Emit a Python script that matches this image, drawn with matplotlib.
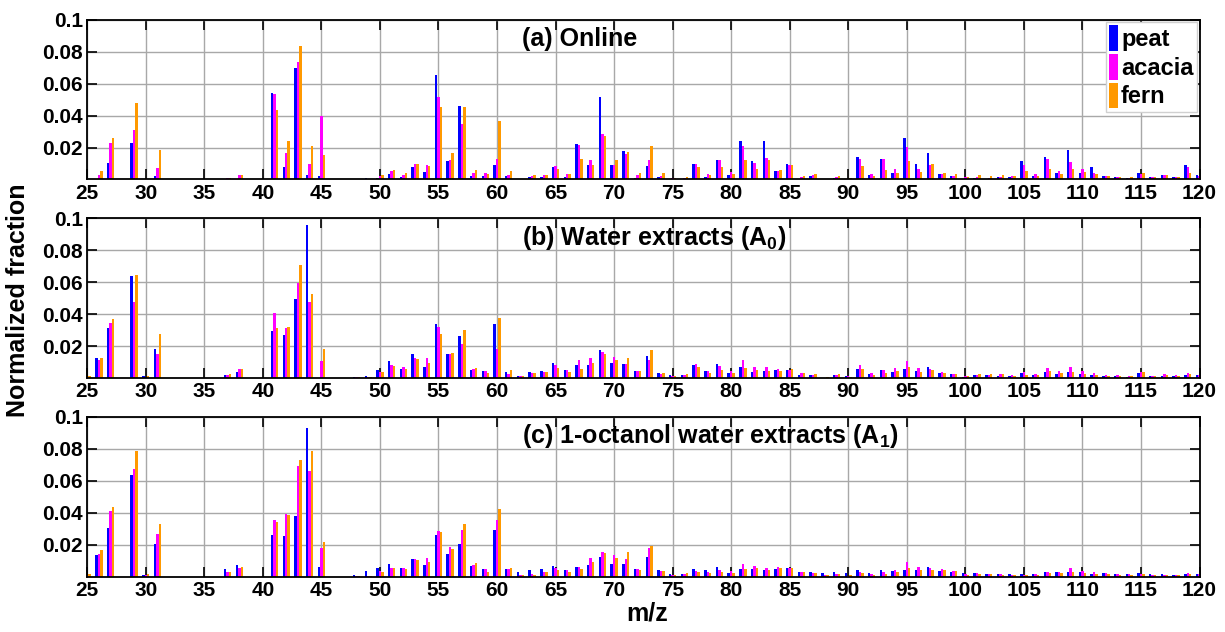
import numpy as np
import matplotlib
matplotlib.use("Agg")
import matplotlib.pyplot as plt

plt.rcParams['font.family'] = ['Liberation Sans', 'DejaVu Sans']
plt.rcParams['font.weight'] = 'bold'
plt.rcParams['mathtext.fontset'] = 'custom'
plt.rcParams['mathtext.rm'] = 'Liberation Sans:bold'
plt.rcParams['mathtext.default'] = 'rm'

# m/z 25 .. 120
mz = np.arange(25, 121)
series_names = ['peat', 'acacia', 'fern']
colors = ['#0000ff', '#ff00ff', '#ff9900']

# (a) Online
online_peat = [
    0, 0.0005, 0.0105, 0, 0.0227, 0, 0.002, 0, 0, 0,
    0, 0, 0, 0.0005, 0, 0, 0.054, 0.008, 0.0695, 0.003,
    0.0023, 0, 0, 0, 0.001, 0.001, 0.0034, 0.0013, 0.008, 0.0044,
    0.0651, 0.0116, 0.0462, 0.0023, 0.0023, 0.0092, 0.002, 0.0003, 0.0013, 0.0013,
    0.0076, 0.0017, 0.022, 0.009, 0.0519, 0.0088, 0.0179, 0.001, 0.0086, 0.0017,
    0.0005, 0.0005, 0.0095, 0.0017, 0.012, 0.003, 0.024, 0.0116, 0.024, 0.0053,
    0.0099, 0.0006, 0.002, 0.0003, 0.001, 0.0005, 0.0139, 0.0027, 0.0128, 0.0038,
    0.026, 0.0097, 0.0164, 0.0034, 0.0023, 0.0005, 0.0008, 0.0005, 0.0015, 0.0015,
    0.0116, 0.0023, 0.0139, 0.0042, 0.0183, 0.0042, 0.0078, 0.0019, 0.0013, 0.001,
    0.004, 0.0013, 0.0027, 0.0013, 0.009, 0.0025]
online_acacia = [
    0, 0.003, 0.0227, 0, 0.0307, 0, 0.007, 0, 0, 0,
    0, 0, 0.001, 0.0027, 0, 0, 0.0534, 0.0168, 0.0737, 0.0097,
    0.040, 0, 0, 0, 0.0005, 0.002, 0.005, 0.003, 0.0099, 0.0088,
    0.0515, 0.0122, 0.0347, 0.004, 0.0042, 0.0128, 0.003, 0.0005, 0.0023, 0.0027,
    0.0086, 0.0034, 0.0216, 0.0124, 0.0282, 0.0088, 0.016, 0.0025, 0.0122, 0.0023,
    0.0008, 0.0008, 0.0095, 0.0034, 0.012, 0.0044, 0.0208, 0.0103, 0.0134, 0.005,
    0.0088, 0.0015, 0.0025, 0.0003, 0.0013, 0.0003, 0.013, 0.0034, 0.0128, 0.0063,
    0.0202, 0.0067, 0.009, 0.0034, 0.0019, 0.0013, 0.0013, 0.0008, 0.0017, 0.0019,
    0.0092, 0.0034, 0.013, 0.005, 0.0109, 0.0067, 0.0042, 0.0019, 0.0015, 0.001,
    0.0034, 0.0015, 0.0027, 0.0017, 0.0078, 0.002]
online_fern = [
    0, 0.005, 0.026, 0, 0.048, 0.0005, 0.0185, 0, 0, 0,
    0, 0, 0.001, 0.0027, 0, 0, 0.0437, 0.024, 0.0836, 0.021,
    0.0151, 0, 0, 0.0003, 0.0005, 0.0025, 0.006, 0.0038, 0.0099, 0.0086,
    0.0456, 0.0164, 0.0456, 0.0057, 0.0034, 0.0368, 0.0055, 0.0005, 0.0027, 0.0027,
    0.0067, 0.0032, 0.013, 0.009, 0.0275, 0.0122, 0.0172, 0.004, 0.021, 0.0042,
    0.001, 0.0013, 0.0078, 0.003, 0.0078, 0.0034, 0.0122, 0.0067, 0.012, 0.0059,
    0.009, 0.0023, 0.0032, 0.0005, 0.0023, 0.0008, 0.0084, 0.0023, 0.0059, 0.0042,
    0.0113, 0.0046, 0.0097, 0.004, 0.0032, 0.0015, 0.0025, 0.002, 0.0027, 0.0019,
    0.005, 0.002, 0.0063, 0.0032, 0.0065, 0.0046, 0.0036, 0.0019, 0.0015, 0.0013,
    0.0042, 0.0017, 0.0025, 0.0017, 0.004, 0.001]

# (b) Water extracts (A0)
water_peat = [
    0.001, 0.0125, 0.0314, 0, 0.0638, 0.0015, 0.0184, 0, 0, 0,
    0, 0, 0.0019, 0.0042, 0, 0, 0.0295, 0.0272, 0.0496, 0.0956,
    0, 0, 0, 0.001, 0.0017, 0.005, 0.0107, 0.0056, 0.015, 0.0071,
    0.0341, 0.015, 0.0262, 0.0054, 0.0044, 0.0341, 0.0042, 0.0017, 0.004, 0.0048,
    0.0098, 0.0052, 0.0084, 0.0084, 0.018, 0.0094, 0.0092, 0.0046, 0.0138, 0.0031,
    0.0021, 0.0019, 0.0084, 0.0046, 0.0088, 0.0031, 0.0071, 0.0042, 0.0048, 0.005,
    0.0052, 0.0021, 0.0021, 0.0005, 0.0021, 0.0015, 0.0059, 0.0027, 0.0052, 0.0042,
    0.0056, 0.0044, 0.0069, 0.0031, 0.0027, 0.001, 0.0021, 0.0019, 0.0017, 0.0013,
    0.0033, 0.0019, 0.0038, 0.0029, 0.0042, 0.0029, 0.0021, 0.0017, 0.0015, 0.001,
    0.0033, 0.0013, 0.0017, 0.0015, 0.0021, 0.0021]
water_acacia = [
    0.001, 0.0113, 0.0343, 0, 0.0477, 0, 0.0155, 0, 0, 0,
    0, 0, 0.0023, 0.0056, 0, 0, 0.041, 0.0316, 0.0598, 0.0475,
    0.0111, 0, 0, 0.0008, 0.0008, 0.0042, 0.0084, 0.0069, 0.013, 0.0125,
    0.0324, 0.0155, 0.0213, 0.0059, 0.0044, 0.0184, 0.0029, 0.0015, 0.0036, 0.0042,
    0.0082, 0.0052, 0.0117, 0.0125, 0.0165, 0.0132, 0.0092, 0.0046, 0.0115, 0.0025,
    0.0015, 0.0021, 0.0088, 0.0046, 0.0077, 0.0046, 0.0113, 0.0073, 0.0069, 0.0059,
    0.0054, 0.0033, 0.0021, 0.0005, 0.0021, 0.0015, 0.0084, 0.0033, 0.0052, 0.0063,
    0.0109, 0.0063, 0.0056, 0.004, 0.0027, 0.0017, 0.0021, 0.0019, 0.0025, 0.0021,
    0.0042, 0.0027, 0.0063, 0.0046, 0.0071, 0.0046, 0.0033, 0.0019, 0.0021, 0.0015,
    0.004, 0.0015, 0.0029, 0.0021, 0.0031, 0.002]
water_fern = [
    0.0015, 0.0125, 0.037, 0, 0.0644, 0.0013, 0.0276, 0, 0, 0,
    0, 0, 0.0025, 0.0056, 0, 0, 0.0316, 0.0322, 0.0711, 0.0527,
    0.0186, 0, 0, 0.0008, 0.0008, 0.0038, 0.0077, 0.0061, 0.0121, 0.0094,
    0.0278, 0.0159, 0.0305, 0.0065, 0.0033, 0.0379, 0.0052, 0.0015, 0.0036, 0.0038,
    0.0065, 0.0042, 0.0061, 0.0096, 0.0153, 0.0117, 0.013, 0.0046, 0.018, 0.0036,
    0.0015, 0.0025, 0.0071, 0.0036, 0.0052, 0.0036, 0.0063, 0.0052, 0.0044, 0.0044,
    0.0059, 0.0031, 0.0025, 0.0008, 0.0025, 0.001, 0.0059, 0.0021, 0.0036, 0.0048,
    0.0069, 0.0042, 0.005, 0.0031, 0.0027, 0.0015, 0.0025, 0.0025, 0.0025, 0.0015,
    0.0021, 0.0021, 0.0046, 0.0031, 0.0042, 0.0027, 0.0021, 0.0017, 0.0015, 0.0013,
    0.0038, 0.0013, 0.0019, 0.0015, 0.0025, 0.002]

# (c) 1-octanol water extracts (A1)
octanol_peat = [
    0.001, 0.0138, 0.0303, 0, 0.0635, 0.001, 0.0207, 0, 0, 0,
    0, 0, 0.0046, 0.0073, 0, 0, 0.0259, 0.0253, 0.038, 0.0927,
    0.006, 0, 0, 0.001, 0.0033, 0.0056, 0.0077, 0.0056, 0.0113, 0.0073,
    0.0259, 0.0144, 0.0207, 0.0065, 0.005, 0.0294, 0.0048, 0.0027, 0.0042, 0.0048,
    0.0069, 0.0044, 0.0058, 0.0071, 0.0123, 0.0079, 0.0081, 0.005, 0.0125, 0.0042,
    0.0017, 0.0019, 0.005, 0.004, 0.006, 0.0025, 0.005, 0.0048, 0.0044, 0.0046,
    0.0052, 0.0031, 0.0027, 0.0021, 0.0029, 0.0021, 0.0044, 0.0023, 0.0042, 0.0033,
    0.004, 0.0044, 0.0058, 0.0033, 0.0031, 0.0021, 0.0025, 0.0019, 0.0017, 0.0017,
    0.0017, 0.0017, 0.0029, 0.0027, 0.0031, 0.0031, 0.0019, 0.0023, 0.0017, 0.0017,
    0.0025, 0.0015, 0.0015, 0.0013, 0.0015, 0.0019]
octanol_acacia = [
    0.001, 0.0144, 0.0411, 0, 0.0676, 0.0013, 0.0265, 0, 0, 0,
    0, 0, 0.0029, 0.0056, 0, 0, 0.0355, 0.0395, 0.0693, 0.066,
    0.0182, 0, 0, 0.0003, 0.0005, 0.0033, 0.0056, 0.0056, 0.0111, 0.0119,
    0.0288, 0.0188, 0.029, 0.0073, 0.0048, 0.0355, 0.0048, 0.0008, 0.0017, 0.0027,
    0.0054, 0.004, 0.0063, 0.0115, 0.0152, 0.0134, 0.0111, 0.005, 0.018, 0.0035,
    0.0008, 0.0015, 0.0038, 0.0029, 0.0044, 0.0035, 0.0077, 0.0065, 0.0052, 0.006,
    0.0056, 0.0031, 0.0021, 0.0008, 0.0017, 0.0005, 0.0029, 0.0017, 0.0027, 0.0044,
    0.0092, 0.006, 0.0052, 0.005, 0.0038, 0.0015, 0.0025, 0.0017, 0.0015, 0.001,
    0.0013, 0.0015, 0.0029, 0.0029, 0.0054, 0.0038, 0.0027, 0.0021, 0.0015, 0.0015,
    0.0017, 0.0008, 0.0013, 0.0013, 0.0021, 0.0015]
octanol_fern = [
    0.002, 0.0165, 0.0434, 0, 0.0789, 0.0015, 0.0332, 0, 0, 0,
    0, 0, 0.0029, 0.006, 0, 0, 0.0342, 0.0384, 0.0729, 0.0789,
    0.0217, 0, 0, 0.0003, 0.0005, 0.0031, 0.0052, 0.0048, 0.0106, 0.0092,
    0.0278, 0.0175, 0.033, 0.0084, 0.0029, 0.0422, 0.0052, 0.0008, 0.0013, 0.0027,
    0.004, 0.0029, 0.0046, 0.0094, 0.0146, 0.0117, 0.0152, 0.0044, 0.019, 0.0035,
    0.0008, 0.0025, 0.0029, 0.0021, 0.0029, 0.0025, 0.005, 0.0054, 0.004, 0.0052,
    0.0052, 0.0027, 0.0021, 0.0008, 0.0017, 0.0008, 0.0021, 0.0013, 0.0019, 0.0031,
    0.0056, 0.0044, 0.0042, 0.0042, 0.0035, 0.001, 0.0017, 0.0015, 0.001, 0.0008,
    0.0008, 0.0013, 0.0021, 0.0021, 0.0027, 0.0021, 0.0019, 0.0017, 0.0013, 0.001,
    0.0017, 0.0008, 0.001, 0.001, 0.0015, 0.0015]

panels = [
    ("(a) Online", [online_peat, online_acacia, online_fern]),
    ("(b) Water extracts (A$_0$)", [water_peat, water_acacia, water_fern]),
    ("(c) 1-octanol water extracts (A$_1$)", [octanol_peat, octanol_acacia, octanol_fern]),
]

yticks = [0.02, 0.04, 0.06, 0.08, 0.1]
ytick_labels = ['0.02', '0.04', '0.06', '0.08', '0.1']
xticks = np.arange(25, 121, 5)

fig = plt.figure(figsize=(12.25, 6.32), dpi=100)
bottoms = [0.716, 0.4014, 0.0875]
left, width, height = 0.0712, 0.908, 0.253
bw = 0.21
offsets = [-bw, 0, bw]

axes = []
for (title, series), b in zip(panels, bottoms):
    ax = fig.add_axes([left, b, width, height])
    for vals, off, c, name in zip(series, offsets, colors, series_names):
        ax.bar(mz + off, vals, width=bw, color=c, linewidth=0, label=name)
    ax.set_xlim(25, 120)
    ax.set_ylim(0, 0.1)
    ax.set_xticks(xticks)
    ax.set_yticks(yticks)
    ax.set_yticklabels(ytick_labels)
    ax.grid(True, color='#a8a8a8', linewidth=1.0)
    ax.set_axisbelow(True)
    ax.tick_params(direction='in', length=7, width=1.2, top=True, right=True,
                   labelsize=15, pad=3)
    for lab in ax.get_xticklabels() + ax.get_yticklabels():
        lab.set_fontweight('bold')
    for sp in ax.spines.values():
        sp.set_linewidth(1.3)
    ax.text(62.1, 0.088, title, fontsize=18, fontweight='bold', va='center', ha='left')
    axes.append(ax)

leg = axes[0].legend(loc='upper right', fontsize=17, handlelength=0.35, handleheight=1.3,
                     handletextpad=0.15, borderpad=0.15, labelspacing=0.12,
                     borderaxespad=0.1, fancybox=False, framealpha=1, edgecolor='#d0d0d0')
for t in leg.get_texts():
    t.set_fontweight('bold')

fig.text(0.015, 0.525, 'Normalized fraction', rotation=90, fontsize=18, fontweight='bold',
         ha='center', va='center')
fig.text(0.528, 0.029, 'm/z', fontsize=18, fontweight='bold', ha='center', va='center')

fig.savefig('out.png', dpi=100)
